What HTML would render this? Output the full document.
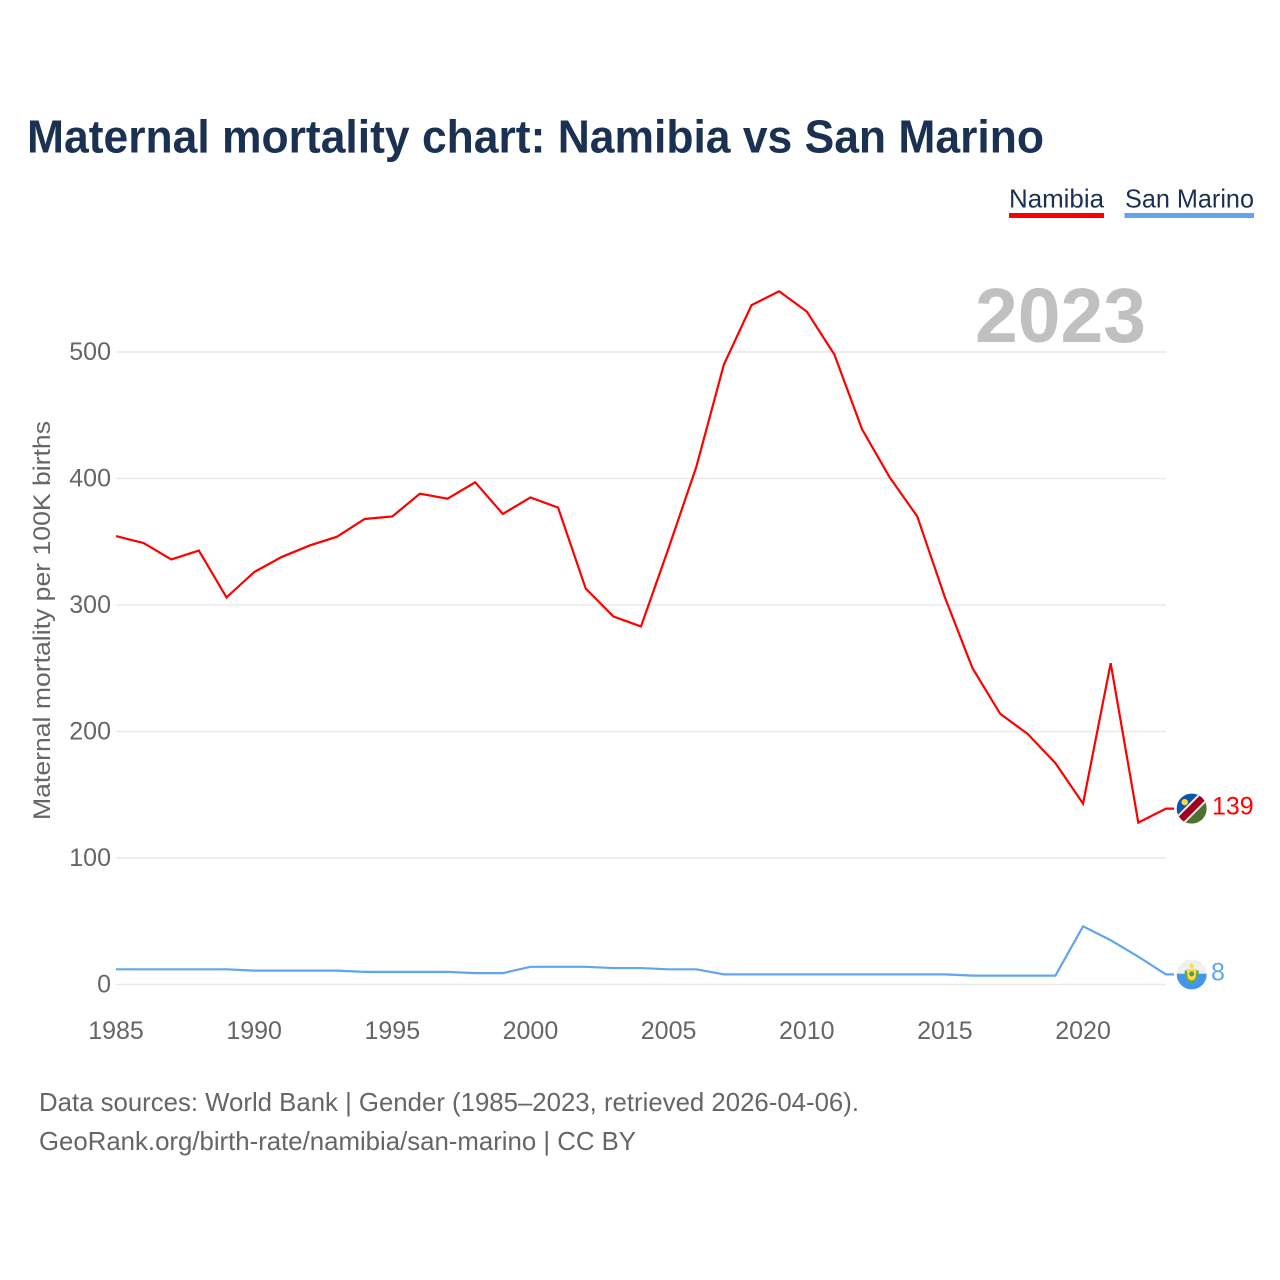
<!DOCTYPE html>
<html lang="en">
<head>
<meta charset="utf-8">
<title>Maternal mortality chart: Namibia vs San Marino</title>
<style>
html,body{margin:0;padding:0;background:#fff;}
svg{display:block;font-family:"Liberation Sans",sans-serif;}
</style>
</head>
<body>
<svg id="chart" xmlns="http://www.w3.org/2000/svg" width="1280" height="1280" viewBox="0 0 1280 1280">
  <rect width="1280" height="1280" fill="#fff"/>
  <text x="27" y="152.5" font-size="46" font-weight="700" fill="#1a3152" textLength="1017" lengthAdjust="spacingAndGlyphs">Maternal mortality chart: Namibia vs San Marino</text>

  <g>
    <g>
      <text x="1009" y="207.5" font-size="26" fill="#1a3152" textLength="95" lengthAdjust="spacingAndGlyphs">Namibia</text>
      <rect x="1009" y="213" width="95" height="5" fill="#ff0000"/>
    </g>
    <g>
      <text x="1125" y="207.5" font-size="26" fill="#1a3152" textLength="129" lengthAdjust="spacingAndGlyphs">San Marino</text>
      <rect x="1124.5" y="213" width="129.5" height="5" fill="#62a5ec"/>
    </g>
  </g>

  <g id="grid"></g>
  <text x="975" y="342" font-size="77" font-weight="700" fill="#c0c0c0" textLength="171" lengthAdjust="spacingAndGlyphs">2023</text>
  <g id="y-ticks"></g>
  <g id="x-ticks"></g>
  <text transform="translate(50,820) rotate(-90)" x="0" y="0" font-size="24" fill="#666" textLength="399" lengthAdjust="spacingAndGlyphs">Maternal mortality per 100K births</text>
  <g id="series"></g>

  <g id="flag-namibia">
    <clipPath id="clip-na"><circle cx="0" cy="0" r="15"/></clipPath>
    <g clip-path="url(#clip-na)">
      <rect x="-15" y="-15" width="30" height="30" fill="#4f7031"/>
      <polygon points="-15,-15 15,-15 -15,15" fill="#0b55ab"/>
      <line x1="-15" y1="15" x2="15" y2="-15" stroke="#eeeeee" stroke-width="11"/>
      <line x1="-15" y1="15" x2="15" y2="-15" stroke="#a2001d" stroke-width="7"/>
      <circle cx="-7" cy="-6.5" r="3.2" fill="#ffda44"/>
    </g>
  </g>
  <g id="flag-san-marino">
    <clipPath id="clip-sm"><circle cx="0" cy="0" r="15"/></clipPath>
    <g clip-path="url(#clip-sm)">
      <rect x="-15" y="-15" width="30" height="15" fill="#f0f0f0"/>
      <rect x="-15" y="-0.7" width="30" height="16" fill="#4195ec"/>
      <path d="M-7,-4 C-7.5,4 -3,8.5 0,9 C3,8.5 7.5,4 7,-4 L4.5,-4 C5,2 2,5.5 0,6 C-2,5.5 -5,2 -4.5,-4 Z" fill="#6da544"/>
      <path d="M-5,-5.5 H5 L4,-3 H-4 Z" fill="#ffda44"/>
      <circle cx="0" cy="-8.5" r="2.2" fill="#ffda44"/>
      <path d="M-4.2,-3.5 H4.2 V1.5 A4.2,4.5 0 0 1 -4.2,1.5 Z" fill="#ffda44"/>
      <circle cx="0" cy="-0.5" r="2.5" fill="#4f9d55"/>
    </g>
  </g>
  <g id="end-labels"></g>

  <g>
    <text x="39" y="1111" font-size="26" fill="#666" textLength="820" lengthAdjust="spacingAndGlyphs">Data sources: World Bank | Gender (1985–2023, retrieved 2026-04-06).</text>
    <text x="39" y="1150" font-size="26" fill="#666" textLength="597" lengthAdjust="spacingAndGlyphs">GeoRank.org/birth-rate/namibia/san-marino | CC BY</text>
  </g>
</svg>
<script>
const years = [1985,1986,1987,1988,1989,1990,1991,1992,1993,1994,1995,1996,1997,1998,1999,2000,2001,2002,2003,2004,2005,2006,2007,2008,2009,2010,2011,2012,2013,2014,2015,2016,2017,2018,2019,2020,2021,2022,2023];
const namibiaValues = [354.5,349,336,343,306,326,338,347,354,368,370,388,384,397,372,385,377,313,291,283,345,409,490,537,548,532,498,439,401,370,306,250,214,198,175,143,254,128,139];
const sanMarinoValues = [12,12,12,12,12,11,11,11,11,10,10,10,10,9,9,14,14,14,13,13,12,12,8,8,8,8,8,8,8,8,8,7,7,7,7,46,35,22,8];
const yTickValues = [0,100,200,300,400,500];
const xTickValues = [1985,1990,1995,2000,2005,2010,2015,2020];

const NS = 'http://www.w3.org/2000/svg';
function xScale(year) { return 116 + (year - 1985) * 27.63; }
function yScale(value) { return 984.5 - value * 1.265; }
function make(tag, attrs, parent, text) {
  const el = document.createElementNS(NS, tag);
  for (const k in attrs) el.setAttribute(k, attrs[k]);
  if (text !== undefined) el.textContent = text;
  parent.appendChild(el);
  return el;
}

const grid = document.getElementById('grid');
const yTicks = document.getElementById('y-ticks');
yTickValues.forEach(function (v) {
  const line = make('line', {x1: 116, x2: 1166, y1: yScale(v), y2: yScale(v), stroke: '#e9e9e9', 'stroke-width': 1.5}, grid);
  
  
  const label = make('text', {x: 111, y: yScale(v) + 8, 'text-anchor': 'end', 'font-size': 25, fill: '#666'}, yTicks, String(v));
  
  
});

const xTicks = document.getElementById('x-ticks');
xTickValues.forEach(function (v) {
  const label = make('text', {x: xScale(v), y: 1039, 'text-anchor': 'middle', 'font-size': 25, fill: '#666'}, xTicks, String(v));
  
  
});

function linePath(values) {
  let d = values.map(function (v, i) {
    return (i ? 'L' : 'M') + xScale(years[i]).toFixed(2) + ',' + yScale(v).toFixed(2);
  }).join(' ');
  return d + ' H1174';
}

const series = document.getElementById('series');
const namibiaLine = make('path', {d: linePath(namibiaValues), fill: 'none', stroke: '#ff0000', 'stroke-width': 2.2, 'stroke-linejoin': 'miter'}, series);


const sanMarinoLine = make('path', {d: linePath(sanMarinoValues), fill: 'none', stroke: '#62a5ec', 'stroke-width': 2.2, 'stroke-linejoin': 'miter'}, series);



const naLast = namibiaValues[namibiaValues.length - 1];
const smLast = sanMarinoValues[sanMarinoValues.length - 1];
document.getElementById('flag-namibia').setAttribute('transform', 'translate(1191.7,' + yScale(naLast) + ')');
document.getElementById('flag-san-marino').setAttribute('transform', 'translate(1191.7,' + yScale(smLast) + ')');

const endLabels = document.getElementById('end-labels');
const naLabel = make('text', {x: 1212, y: yScale(naLast) + 6, 'font-size': 25, fill: '#ff0000'}, endLabels, String(naLast));


const smLabel = make('text', {x: 1211, y: yScale(smLast) + 6, 'font-size': 25, fill: '#62a5ec'}, endLabels, String(smLast));


</script>
</body>
</html>
